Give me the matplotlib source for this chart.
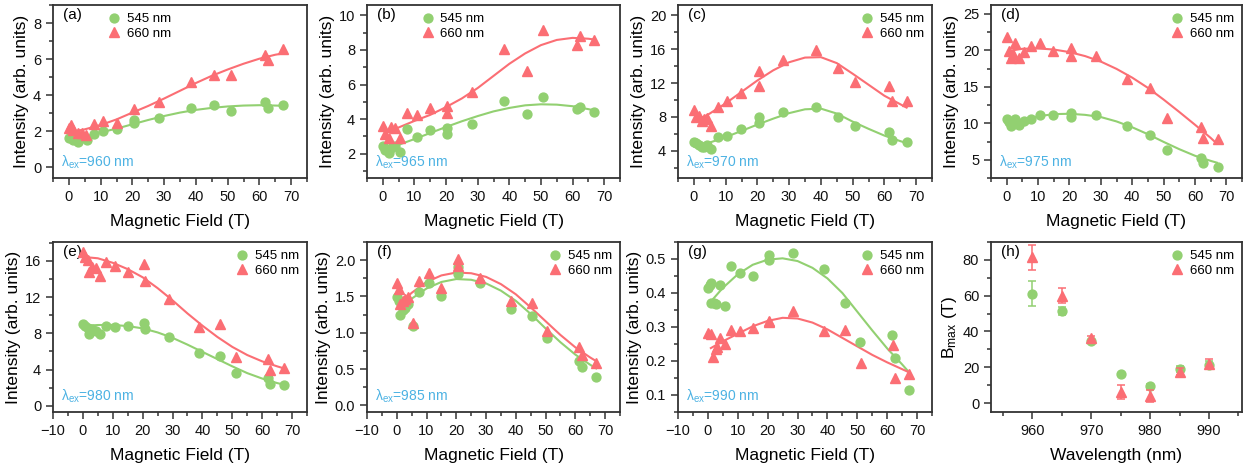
import matplotlib
matplotlib.use('Agg')
import matplotlib.pyplot as plt
from matplotlib.ticker import MultipleLocator
from matplotlib.lines import Line2D

plt.rcParams['font.family'] = ['Liberation Sans', 'DejaVu Sans']
plt.rcParams['mathtext.fontset'] = 'custom'
plt.rcParams['mathtext.rm'] = 'Liberation Sans'
plt.rcParams['mathtext.it'] = 'Liberation Sans:italic'

GREEN = '#92d071'
RED = '#fb6e74'
BLUE = '#4cb2e3'
AX = '#333333'

# ---------------- data ----------------
# (a) 960 nm
a_g_x = [0, 1.4, 2.9, 5.8, 8.0, 10.8, 15.0, 20.6, 20.6, 28.5, 38.6, 45.8, 51.0, 61.8, 62.7, 67.4]
a_g_y = [1.63, 1.50, 1.40, 1.50, 1.83, 2.00, 2.10, 2.64, 2.45, 2.71, 3.31, 3.44, 3.12, 3.60, 3.29, 3.44]
a_r_x = [0, 0.7, 1.4, 2.9, 4.2, 5.5, 7.8, 10.8, 15.0, 20.6, 28.5, 38.6, 45.8, 51.0, 61.8, 62.7, 67.4]
a_r_y = [2.19, 2.34, 2.06, 1.90, 1.87, 1.80, 2.39, 2.54, 2.47, 3.25, 3.63, 4.71, 5.12, 5.14, 6.20, 5.93, 6.58]
a_fit_x = [2, 5, 10, 15, 20, 25, 30, 35, 40, 45, 50, 55, 60, 65, 67]
a_fit_g = [1.59, 1.70, 1.93, 2.14, 2.38, 2.62, 2.84, 3.03, 3.18, 3.29, 3.37, 3.42, 3.44, 3.42, 3.41]
a_fit_r = [2.00, 2.10, 2.34, 2.65, 3.03, 3.40, 3.81, 4.24, 4.67, 5.07, 5.42, 5.74, 6.02, 6.24, 6.30]

# (b) 965 nm
b_x = [0, 0.7, 1.8, 2.6, 4.0, 5.4, 7.6, 10.7, 14.8, 20.4, 20.4, 28.2, 38.3, 45.5, 50.7, 61.3, 62.2, 66.9]
b_g_y = [2.45, 2.20, 2.06, 2.35, 2.45, 2.12, 3.41, 2.97, 3.36, 3.51, 3.16, 3.74, 5.06, 4.29, 5.26, 4.58, 4.71, 4.42]
b_r_y = [3.61, 3.12, 2.89, 3.55, 3.51, 2.93, 4.33, 4.25, 4.62, 4.77, 4.33, 5.55, 8.07, 6.81, 9.13, 8.26, 8.78, 8.59]
b_fit_x = [3, 5, 10, 15, 20, 25, 30, 35, 40, 45, 50, 55, 60, 65, 67]
b_fit_g = [2.42, 2.52, 2.85, 3.20, 3.55, 3.88, 4.18, 4.45, 4.65, 4.80, 4.86, 4.84, 4.75, 4.58, 4.50]
b_fit_r = [3.40, 3.52, 3.90, 4.25, 4.70, 5.20, 5.80, 6.50, 7.20, 7.80, 8.28, 8.58, 8.70, 8.65, 8.60]

# (c) 970 nm
c_x = [0, 0.7, 1.6, 2.6, 3.1, 4.1, 5.5, 7.6, 10.5, 14.7, 20.5, 20.5, 28.2, 38.5, 45.5, 50.8, 61.6, 62.4, 67.0]
c_g_y = [5.07, 4.87, 4.71, 4.47, 4.40, 4.71, 4.20, 5.58, 5.78, 6.57, 7.95, 7.28, 8.62, 9.14, 7.95, 6.96, 6.25, 5.30, 5.10]
c_r_y = [8.82, 7.95, 8.10, 7.56, 7.75, 7.87, 6.92, 9.22, 9.85, 10.84, 13.40, 11.70, 14.67, 15.85, 13.76, 12.10, 11.70, 9.85, 9.85]
c_fit_x = [3, 5, 10, 15, 20, 25, 30, 35, 40, 45, 50, 55, 60, 65, 67]
c_fit_g = [4.75, 4.98, 5.62, 6.35, 7.10, 7.80, 8.45, 8.90, 8.98, 8.40, 7.45, 6.60, 5.80, 5.15, 4.92]
c_fit_r = [8.00, 8.40, 9.60, 10.95, 12.30, 13.50, 14.45, 15.00, 15.05, 14.35, 13.10, 11.80, 10.50, 9.50, 9.10]

# (d) 975 nm
d_x = [0, 0.6, 1.4, 2.1, 2.8, 3.8, 5.4, 7.6, 10.6, 14.8, 20.4, 20.5, 28.4, 38.5, 45.7, 51.0, 61.9, 62.6, 67.4]
d_g_y = [10.65, 10.19, 9.63, 9.95, 10.56, 9.72, 10.28, 10.56, 11.11, 11.11, 11.34, 10.88, 11.11, 9.58, 8.33, 6.39, 5.28, 4.49, 4.07]
d_r_y = [21.76, 19.90, 18.90, 19.44, 21.06, 18.90, 19.80, 20.60, 20.97, 19.90, 20.37, 19.20, 19.20, 16.10, 14.81, 10.74, 9.49, 7.96, 7.78]
d_fit_x = [2, 5, 10, 15, 20, 25, 30, 35, 40, 45, 50, 55, 60, 65, 67]
d_fit_g = [9.85, 10.40, 10.95, 11.25, 11.30, 11.15, 10.85, 10.25, 9.45, 8.50, 7.45, 6.45, 5.55, 4.85, 4.60]
d_fit_r = [20.00, 20.20, 20.25, 20.10, 19.75, 19.20, 18.45, 17.45, 16.25, 14.85, 13.25, 11.55, 9.80, 8.00, 7.20]

# (e) 980 nm
e_x = [0, 0.8, 1.6, 2.2, 3.2, 4.3, 5.6, 7.8, 10.9, 15.0, 20.6, 20.7, 28.8, 38.9, 45.9, 51.2, 61.8, 62.7, 67.4]
e_g_y = [9.00, 8.82, 8.56, 7.98, 8.45, 8.27, 7.98, 8.82, 8.75, 8.82, 9.18, 8.53, 7.62, 5.83, 5.47, 3.64, 3.06, 2.44, 2.33]
e_r_y = [17.00, 16.47, 16.10, 14.76, 15.38, 15.20, 14.29, 15.85, 15.49, 14.76, 15.63, 13.74, 11.84, 8.71, 9.00, 5.43, 5.17, 3.90, 4.19]
e_fit_gx = [2, 5, 10, 15, 20, 25, 30, 35, 40, 45, 50, 55, 60, 65, 67]
e_fit_g = [8.85, 8.92, 8.93, 8.80, 8.55, 8.10, 7.50, 6.75, 5.95, 5.15, 4.35, 3.60, 3.00, 2.50, 2.35]
e_fit_rx = [0, 5, 10, 15, 20, 25, 30, 35, 40, 45, 50, 55, 60, 65, 67]
e_fit_r = [16.45, 16.30, 15.80, 15.10, 14.20, 13.00, 11.65, 10.20, 8.85, 7.60, 6.50, 5.60, 4.90, 4.35, 4.15]

# (f) 985 nm
f_x = [0, 0.7, 1.2, 2.0, 2.8, 3.8, 5.6, 7.6, 10.7, 14.8, 20.6, 20.6, 28.1, 38.3, 45.5, 50.6, 61.2, 62.2, 66.8]
f_g_y = [1.49, 1.44, 1.25, 1.31, 1.34, 1.40, 1.10, 1.56, 1.68, 1.51, 1.81, 1.90, 1.68, 1.33, 1.23, 0.93, 0.61, 0.53, 0.39]
f_r_y = [1.68, 1.60, 1.40, 1.44, 1.47, 1.49, 1.13, 1.72, 1.83, 1.61, 2.01, 1.92, 1.75, 1.44, 1.41, 1.02, 0.81, 0.69, 0.58]
f_fit_x = [1, 5, 10, 15, 20, 25, 30, 35, 40, 45, 50, 55, 60, 65, 67]
f_fit_g = [1.32, 1.47, 1.61, 1.70, 1.74, 1.73, 1.68, 1.58, 1.44, 1.26, 1.06, 0.87, 0.70, 0.56, 0.51]
f_fit_r = [1.40, 1.55, 1.70, 1.79, 1.83, 1.82, 1.77, 1.67, 1.53, 1.35, 1.16, 0.97, 0.80, 0.66, 0.61]

# (g) 990 nm
g_g_x = [0, 0.6, 1.1, 1.1, 1.9, 2.8, 4.1, 5.6, 7.8, 10.8, 15.1, 20.6, 20.6, 28.5, 38.7, 45.9, 51.0, 61.7, 62.5, 67.4]
g_g_y = [0.416, 0.424, 0.428, 0.372, 0.370, 0.369, 0.424, 0.362, 0.478, 0.458, 0.449, 0.513, 0.497, 0.517, 0.470, 0.370, 0.256, 0.276, 0.209, 0.114]
g_r_x = [0, 1.1, 1.7, 2.6, 3.0, 4.1, 5.6, 7.8, 10.8, 15.1, 20.6, 20.6, 28.5, 38.7, 45.9, 51.2, 61.8, 62.7, 67.4]
g_r_y = [0.281, 0.278, 0.211, 0.235, 0.240, 0.268, 0.250, 0.291, 0.288, 0.296, 0.319, 0.315, 0.347, 0.288, 0.290, 0.194, 0.248, 0.151, 0.161]
g_fit_x = [1, 5, 10, 15, 20, 25, 30, 35, 40, 45, 50, 55, 60, 65, 67]
g_fit_g = [0.375, 0.415, 0.455, 0.483, 0.498, 0.502, 0.494, 0.474, 0.443, 0.400, 0.345, 0.290, 0.237, 0.190, 0.170]
g_fit_r = [0.238, 0.258, 0.280, 0.302, 0.318, 0.327, 0.325, 0.313, 0.293, 0.268, 0.243, 0.218, 0.196, 0.176, 0.168]

# (h) Bmax vs excitation wavelength
h_wl = [960, 965, 970, 975, 980, 985, 990]
h_g = [61.2, 51.2, 34.4, 16.2, 9.4, 19.0, 21.3]
h_g_err = [6.9, 2.2, 1.0, 0.6, 1.5, 1.5, 2.0]
h_r = [81.5, 60.1, 36.2, 6.0, 4.0, 17.5, 21.8]
h_r_err = [7.1, 4.4, 1.5, 4.0, 3.2, 2.0, 2.6]

labels = ['545 nm', '660 nm']
W = 1245.0
H = 470.0
MS_C = 6.4
MS_T = 7.4


def make_ax(fig, l, r, t, b):
    return fig.add_axes([l / W, (H - b) / H, (r - l) / W, (b - t) / H])


def style(ax, xlim, ylim, ymaj, ymin, xmaj=10, xmin=5):
    ax.set_xlim(*xlim)
    ax.set_ylim(*ylim)
    ax.xaxis.set_major_locator(MultipleLocator(xmaj))
    ax.xaxis.set_minor_locator(MultipleLocator(xmin))
    ax.yaxis.set_major_locator(MultipleLocator(ymaj))
    ax.yaxis.set_minor_locator(MultipleLocator(ymin))
    ax.tick_params(which='both', direction='out', top=False, right=False,
                   colors=AX, labelcolor='#111111', labelsize=10.5, width=1.1)
    ax.tick_params(which='major', length=5)
    ax.tick_params(which='minor', length=3)
    for s in ax.spines.values():
        s.set_linewidth(1.3)
        s.set_color(AX)


def legend(ax, loc, anchor):
    h = [Line2D([], [], ls='none', marker='o', ms=MS_C, color=GREEN),
         Line2D([], [], ls='none', marker='^', ms=MS_T, color=RED)]
    ax.legend(h, labels, loc=loc, bbox_to_anchor=anchor, frameon=False,
              fontsize=9.5, handletextpad=0.2, labelspacing=0.2,
              handlelength=1.5, borderaxespad=0.2)


fig = plt.figure(figsize=(12.45, 4.70), dpi=100)

cols = [(53, 307), (367, 620), (678, 932), (991, 1242)]
top_row = (5, 178)
bot_row = (242, 412)

panels = [
    dict(tag='(a)', wl='960', gx=a_g_x, gy=a_g_y, rx=a_r_x, ry=a_r_y,
         fgx=a_fit_x, fg=a_fit_g, frx=a_fit_x, fr=a_fit_r,
         ylim=(-0.6, 9.0), ymaj=2, ymin=1, leg=('upper left', (0.17, 1.0))),
    dict(tag='(b)', wl='965', gx=b_x, gy=b_g_y, rx=b_x, ry=b_r_y,
         fgx=b_fit_x, fg=b_fit_g, frx=b_fit_x, fr=b_fit_r,
         ylim=(0.6, 10.6), ymaj=2, ymin=1, leg=('upper left', (0.17, 1.0))),
    dict(tag='(c)', wl='970', gx=c_x, gy=c_g_y, rx=c_x, ry=c_r_y,
         fgx=c_fit_x, fg=c_fit_g, frx=c_fit_x, fr=c_fit_r,
         ylim=(0.8, 21.2), ymaj=4, ymin=2, leg=('upper right', (1.0, 1.0))),
    dict(tag='(d)', wl='975', gx=d_x, gy=d_g_y, rx=d_x, ry=d_r_y,
         fgx=d_fit_x, fg=d_fit_g, frx=d_fit_x, fr=d_fit_r,
         ylim=(2.5, 26.2), ymaj=5, ymin=2.5, leg=('upper right', (1.0, 1.0))),
    dict(tag='(e)', wl='980', gx=e_x, gy=e_g_y, rx=e_x, ry=e_r_y,
         fgx=e_fit_gx, fg=e_fit_g, frx=e_fit_rx, fr=e_fit_r,
         ylim=(-0.7, 18.1), ymaj=4, ymin=2, leg=('upper right', (1.0, 1.0))),
    dict(tag='(f)', wl='985', gx=f_x, gy=f_g_y, rx=f_x, ry=f_r_y,
         fgx=f_fit_x, fg=f_fit_g, frx=f_fit_x, fr=f_fit_r,
         ylim=(-0.09, 2.25), ymaj=0.5, ymin=0.25, leg=('upper right', (1.0, 1.0))),
    dict(tag='(g)', wl='990', gx=g_g_x, gy=g_g_y, rx=g_r_x, ry=g_r_y,
         fgx=g_fit_x, fg=g_fit_g, frx=g_fit_x, fr=g_fit_r,
         ylim=(0.05, 0.55), ymaj=0.1, ymin=0.05, leg=('upper right', (1.0, 1.0))),
]

for i, p in enumerate(panels):
    row = top_row if i < 4 else bot_row
    l, r = cols[i % 4]
    ax = make_ax(fig, l, r, row[0], row[1])
    xlim = (-5, 75) if i < 4 else (-10, 75)
    ax.plot(p['fgx'], p['fg'], color=GREEN, lw=1.5, zorder=2, solid_joinstyle='round')
    ax.plot(p['frx'], p['fr'], color=RED, lw=1.5, zorder=2, solid_joinstyle='round')
    ax.plot(p['gx'], p['gy'], ls='none', marker='o', ms=MS_C, color=GREEN, zorder=3)
    ax.plot(p['rx'], p['ry'], ls='none', marker='^', ms=MS_T, color=RED, zorder=4)
    style(ax, xlim, p['ylim'], p['ymaj'], p['ymin'])
    ax.set_xlabel('Magnetic Field (T)', fontsize=12.5, labelpad=7)
    ax.set_ylabel('Intensity (arb. units)', fontsize=12.5, labelpad=3)
    ax.text(0.04, 0.98, p['tag'], transform=ax.transAxes, fontsize=11,
            va='top', ha='left')
    ax.text(0.03, 0.04, r'λ$_{\rm ex}$=' + p['wl'] + ' nm', transform=ax.transAxes,
            fontsize=10, color=BLUE, va='bottom', ha='left')
    legend(ax, *p['leg'])

# (h)
l, r = cols[3]
ax = make_ax(fig, l, r, bot_row[0], bot_row[1])
ax.errorbar(h_wl, h_g, yerr=h_g_err, ls='none', marker='o', ms=MS_C, color=GREEN,
            ecolor=GREEN, elinewidth=1.1, capsize=3, capthick=1.1, zorder=3)
ax.errorbar(h_wl, h_r, yerr=h_r_err, ls='none', marker='^', ms=MS_T, color=RED,
            ecolor=RED, elinewidth=1.1, capsize=3, capthick=1.1, zorder=4)
style(ax, (953, 995.6), (-5, 90), 20, 10, xmaj=10, xmin=5)
ax.set_xlabel('Wavelength (nm)', fontsize=12.5, labelpad=7)
ax.set_ylabel(r'B$_{\rm max}$ (T)', fontsize=12.5, labelpad=3)
ax.text(0.04, 0.98, '(h)', transform=ax.transAxes, fontsize=11, va='top', ha='left')
legend(ax, 'upper right', (1.0, 1.0))

fig.savefig('out.png', dpi=100)
